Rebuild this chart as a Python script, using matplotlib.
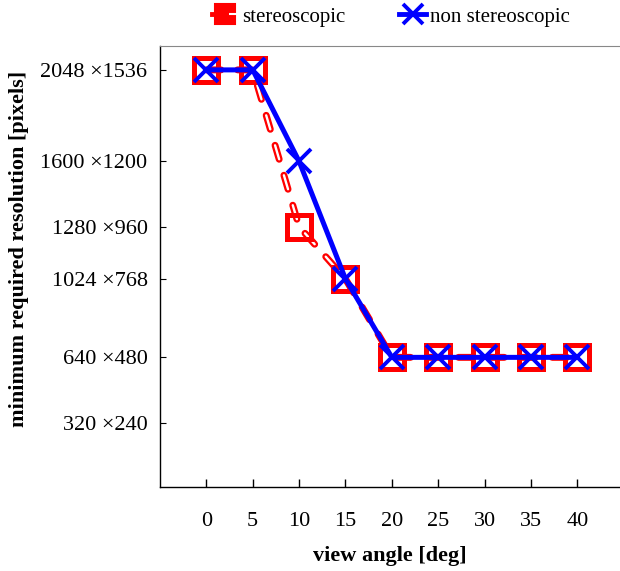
import matplotlib
matplotlib.use("Agg")
import matplotlib.pyplot as plt
from matplotlib.lines import Line2D
from matplotlib.legend_handler import HandlerTuple

angles = [0, 5, 10, 15, 20, 25, 30, 35, 40]
stereo = [2048, 2048, 1280, 1024, 640, 640, 640, 640, 640]
non_stereo = [2048, 2048, 1600, 1024, 640, 640, 640, 640, 640]
ytick_vals = [320, 640, 1024, 1280, 1600, 2048]
ytick_labels = ["320 \u00d7240", "640 \u00d7480", "1024 \u00d7768", "1280 \u00d7960",
                "1600 \u00d71200", "2048 \u00d71536"]

plt.rcParams['font.family'] = ['Liberation Serif', 'DejaVu Serif']
fig = plt.figure(figsize=(6.2, 5.71), dpi=100)
ax = fig.add_axes([160/620, 1-487/571, 460/620, (487-46)/571])

L1, L2 = 5.0, 1.7
a, b = 2.1, 2.4
ax.plot(angles, stereo, color='red', lw=L1, ls=(0, (a, b)), dash_capstyle='round', zorder=2)
ax.plot(angles, stereo, color='white', lw=L2, ls=(0, (a*L1/L2, b*L1/L2)), dash_capstyle='round', zorder=2.1)
ax.plot(angles, stereo, color='red', lw=0, marker='s', ms=17, mfc='none', mec='red', mew=3.6, zorder=3)
ax.plot(angles, non_stereo, color='blue', lw=3.6, marker='x', ms=17, mew=2.8, zorder=4)

ax.set_xlim(-5, 44.6)
ax.set_ylim(5, 2165)
ax.set_xticks(angles)
ax.set_xticklabels([str(a) for a in angles], fontsize=16)
ax.set_yticks(ytick_vals)
ax.set_yticklabels(ytick_labels, fontsize=16)
ax.tick_params(axis='x', direction='in', length=6, width=1, pad=18)
ax.tick_params(axis='y', direction='in', length=4, width=0.8, pad=9)
ax.spines['right'].set_visible(False)
ax.spines['top'].set_color('#888888')
ax.spines['left'].set_linewidth(1)
ax.spines['bottom'].set_linewidth(1)

ax.set_xlabel('view angle [deg]', fontsize=16, fontweight='bold')
ax.xaxis.set_label_coords(0.5, -(556-487)/441)
ax.xaxis.label.set_va('center')
ax.set_ylabel('minimum required resolution [pixels]', fontsize=16, fontweight='bold')
ax.yaxis.set_label_coords(-(160-19)/460, (487-249)/441)
ax.yaxis.label.set_va('center')

h1a = Line2D([], [], color='red', lw=3.5, ls='-')
h1b = Line2D([], [], color='red', lw=0, marker='s', ms=14, mfc='red', mec='red', mew=1.5)
h1c = Line2D([], [], color='white', lw=0, marker='_', ms=7, mew=1.5)
h2 = Line2D([], [], color='blue', lw=3.5, marker='x', ms=14, mew=2.8)
fig.legend([(h1a, h1b, h1c), h2], ['stereoscopic', 'non stereoscopic'],
           handler_map={tuple: HandlerTuple(ndivide=None, pad=0)},
           loc='center', bbox_to_anchor=(0.63, 1-17/571),
           ncol=2, frameon=False, fontsize=15, handlelength=1.3, handletextpad=0.15, columnspacing=2.6)

fig.savefig('out.png', dpi=100)
